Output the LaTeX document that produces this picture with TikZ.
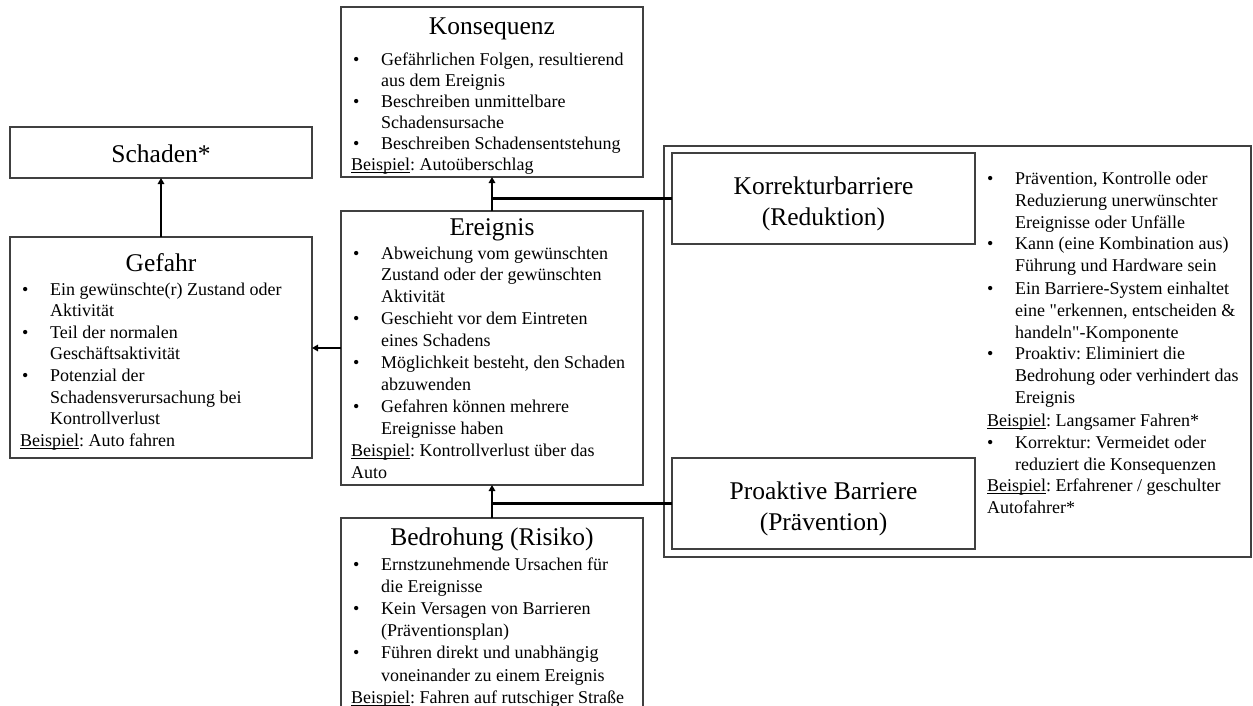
\documentclass[tikz,border=0pt]{standalone}
\usepackage{fontspec}
\setmainfont{Liberation Serif}
\usetikzlibrary{arrows.meta}

\definecolor{boxgray}{HTML}{404040}

% text sizes
\newcommand\bodyfont{\fontsize{18}{20}\selectfont\frenchspacing}
\newcommand\titlefont{\fontsize{25.5}{31}\selectfont}
% one line of a bullet list: bullet line, continuation line, plain line
\newcommand\Lbul[1]{\hbox{\makebox[28pt][l]{\textbullet}#1}}
\newcommand\Lcont[1]{\hbox{\hspace*{28pt}#1}}
\newcommand\Lplain[1]{\hbox{#1}}
\newcommand\Lex[1]{\hbox{\kern-2pt#1}}
% underlined "Beispiel"
\newcommand\bsp{\setbox0=\hbox{Beispiel}\rlap{\rule[-2.3pt]{\wd0}{0.8pt}}\box0}
% straight double quote, set as a glyph so the TeX mapping leaves it alone
\newcommand\dq{\XeTeXglyph\XeTeXcharglyph"22\relax}
% block of lines with a fixed baseline distance; its baseline is the first line
\newcommand\textblock[2]{\vtop{\bodyfont\baselineskip=#1\lineskiplimit=-1000pt\lineskip=0pt #2}}

\begin{document}
\begin{tikzpicture}[x=1pt,y=-1pt,
  box/.style={draw=boxgray, line width=1.3pt, inner sep=0pt, outer sep=0pt, anchor=north west},
  title/.style={inner sep=0pt, anchor=base, font=\titlefont},
  bartitle/.style={inner sep=0pt, align=center, font=\titlefont, yshift=-5pt},
  body/.style={inner sep=0pt, anchor=base west},
  conn/.style={line width=2.4pt, black, -{Triangle[length=6pt,width=6.5pt]}},
  link/.style={line width=2.4pt, black}]
\useasboundingbox (0,0) rectangle (1253,706);
\clip (0,0) rectangle (1253,706);

% frame around the two barriers and their description
\node[box, minimum width=587pt, minimum height=411pt] (barriers) at (664,146) {};

% boxes
\node[box, minimum width=302pt, minimum height=51pt]  (schaden)    at (10,127) {};
\node[box, minimum width=302pt, minimum height=221pt] (gefahr)     at (10,237) {};
\node[box, minimum width=302pt, minimum height=170pt] (konsequenz) at (341,7) {};
\node[box, minimum width=302pt, minimum height=274pt] (ereignis)   at (341,211) {};
\node[box, minimum width=302pt, minimum height=220pt] (bedrohung)  at (341,518) {};
\node[box, minimum width=303pt, minimum height=91pt]  (korrektur)  at (672,153) {};
\node[box, minimum width=303pt, minimum height=91pt]  (proaktiv)   at (672,458) {};

% Schaden
\node[title] (schaden-title) at (161,162) {Schaden*};

% Gefahr
\node[title] (gefahr-title) at (161,271) {Gefahr};
\node[body] (gefahr-text) at (22,295) {\textblock{21.6pt}{%
  \Lbul{Ein gewünschte(r) Zustand oder}
  \Lcont{Aktivität}
  \Lbul{Teil der normalen}
  \Lcont{Geschäftsaktivität}
  \Lbul{Potenzial der}
  \Lcont{Schadensverursachung bei}
  \Lcont{Kontrollverlust}
  \Lex{\bsp: Auto fahren}}};

% Konsequenz
\node[title] (konsequenz-title) at (492,35) {Konsequenz};
\node[body] (konsequenz-text) at (353,66) {\textblock{21pt}{%
  \Lbul{Gefährlichen Folgen, resultierend}
  \Lcont{aus dem Ereignis}
  \Lbul{Beschreiben unmittelbare}
  \Lcont{Schadensursache}
  \Lbul{Beschreiben Schadensentstehung}
  \Lex{\bsp: Autoüberschlag}}};

% Ereignis
\node[title] (ereignis-title) at (492,235) {Ereignis};
\node[body] (ereignis-text) at (353,259) {\textblock{21.9pt}{%
  \Lbul{Abweichung vom gewünschten}
  \Lcont{Zustand oder der gewünschten}
  \Lcont{Aktivität}
  \Lbul{Geschieht vor dem Eintreten}
  \Lcont{eines Schadens}
  \Lbul{Möglichkeit besteht, den Schaden}
  \Lcont{abzuwenden}
  \Lbul{Gefahren können mehrere}
  \Lcont{Ereignisse haben}
  \Lex{\bsp: Kontrollverlust über das}
  \Lex{Auto}}};

% Bedrohung
\node[title] (bedrohung-title) at (492,545) {Bedrohung (Risiko)};
\node[body] (bedrohung-text) at (353,570) {\textblock{22.2pt}{%
  \Lbul{Ernstzunehmende Ursachen für}
  \Lcont{die Ereignisse}
  \Lbul{Kein Versagen von Barrieren}
  \Lcont{(Präventionsplan)}
  \Lbul{Führen direkt und unabhängig}
  \Lcont{voneinander zu einem Ereignis}
  \Lex{\bsp: Fahren auf rutschiger Straße}}};

% barriers
\node[bartitle] (korrektur-title) at (korrektur.center)
  {Korrekturbarriere\\(Reduktion)};
\node[bartitle] (proaktiv-title) at (proaktiv.center)
  {Proaktive Barriere\\(Prävention)};

\node[body] (barriers-text) at (987,184) {\textblock{22pt}{%
  \Lbul{Prävention, Kontrolle oder}
  \Lcont{Reduzierung unerwünschter}
  \Lcont{Ereignisse oder Unfälle}
  \Lbul{Kann (eine Kombination aus)}
  \Lcont{Führung und Hardware sein}
  \Lbul{Ein Barriere-System einhaltet}
  \Lcont{eine \dq erkennen, entscheiden \&}
  \Lcont{handeln\dq-Komponente}
  \Lbul{Proaktiv: Eliminiert die}
  \Lcont{Bedrohung oder verhindert das}
  \Lcont{Ereignis}
  \Lplain{\bsp: Langsamer Fahren*}
  \Lbul{Korrektur: Vermeidet oder}
  \Lcont{reduziert die Konsequenzen}
  \Lplain{\bsp: Erfahrener / geschulter}
  \Lplain{Autofahrer*}}};

% connectors
\draw[conn] (gefahr.north) -- (schaden.south);
\draw[conn] (ereignis.west) -- (ereignis.west -| gefahr.east);
\draw[conn] (ereignis.north) -- (konsequenz.south);
\draw[link] (korrektur.west) -- (korrektur.west -| ereignis.north);
\draw[conn] (bedrohung.north) -- (ereignis.south);
\draw[link] (proaktiv.west) -- (proaktiv.west -| bedrohung.north);
\end{tikzpicture}
\end{document}
